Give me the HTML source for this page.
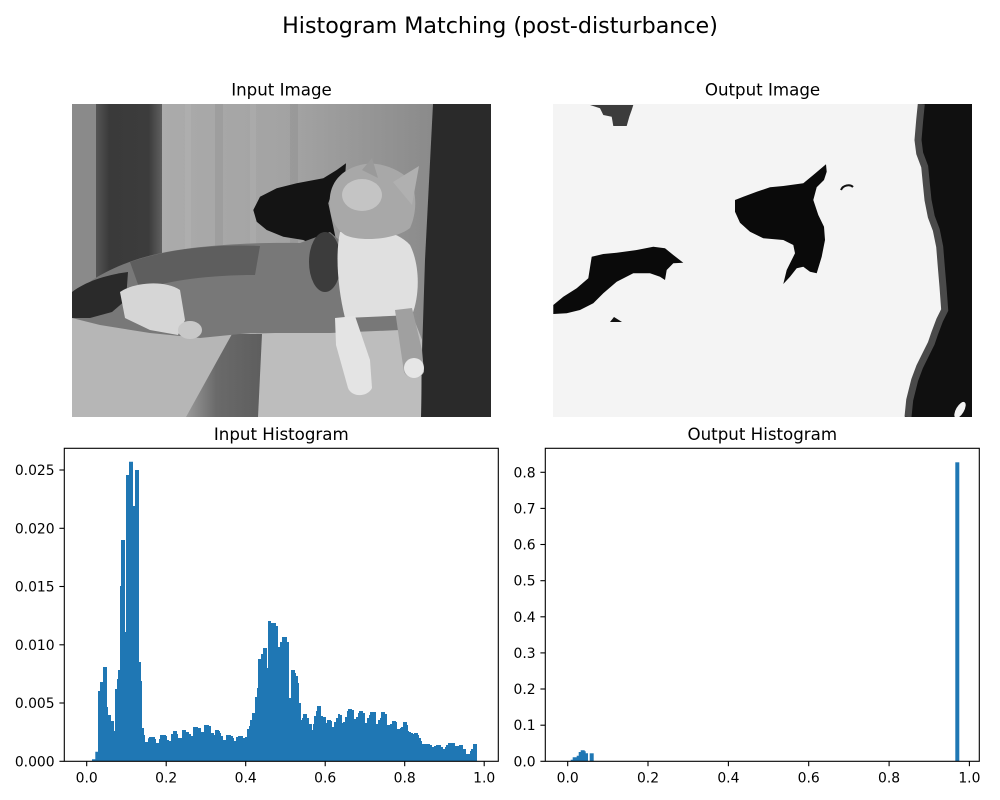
<!DOCTYPE html>
<html>
<head>
<meta charset="utf-8">
<style>
html,body{margin:0;padding:0;background:#fff;}
svg{display:block;}
text{font-family:"DejaVu Sans","Liberation Sans",sans-serif;fill:#000;}
</style>
</head>
<body>
<svg width="1000" height="800" viewBox="0 0 1000 800" xmlns="http://www.w3.org/2000/svg">
<defs>
  <clipPath id="c1"><rect x="72" y="104" width="419" height="313"/></clipPath>
  <clipPath id="c2"><rect x="553" y="104" width="419" height="313"/></clipPath>
  <linearGradient id="curt" x1="0" y1="0" x2="1" y2="0">
    <stop offset="0" stop-color="#ababab"/>
    <stop offset="0.5" stop-color="#a2a2a2"/>
    <stop offset="1" stop-color="#8a8a8a"/>
  </linearGradient>
  <linearGradient id="band" x1="0" y1="0" x2="1" y2="0">
    <stop offset="0" stop-color="#555"/>
    <stop offset="0.2" stop-color="#3a3a3a"/>
    <stop offset="0.8" stop-color="#3c3c3c"/>
    <stop offset="1" stop-color="#606060"/>
  </linearGradient>
  <linearGradient id="shad" x1="0" y1="0" x2="1" y2="0">
    <stop offset="0" stop-color="#9a9a9a"/>
    <stop offset="0.4" stop-color="#6a6a6a"/>
    <stop offset="1" stop-color="#5e5e5e"/>
  </linearGradient>
</defs>

<rect x="0" y="0" width="1000" height="800" fill="#fff"/>

<!-- Suptitle -->
<text x="500" y="33" font-size="22.2" text-anchor="middle">Histogram Matching (post-disturbance)</text>

<!-- Subplot titles -->
<text x="281.5" y="95.7" font-size="16.67" text-anchor="middle">Input Image</text>
<text x="762.5" y="95.7" font-size="16.67" text-anchor="middle">Output Image</text>
<text x="281.3" y="440" font-size="16.67" text-anchor="middle">Input Histogram</text>
<text x="762.3" y="440" font-size="16.67" text-anchor="middle">Output Histogram</text>

<!-- ===== Input image ===== -->
<g clip-path="url(#c1)">
  <rect x="72" y="104" width="419" height="313" fill="#9e9e9e"/>
  <rect x="160" y="104" width="275" height="313" fill="url(#curt)"/>
  <rect x="185" y="104" width="6" height="230" fill="#fff" opacity="0.06"/>
  <rect x="215" y="104" width="8" height="230" fill="#000" opacity="0.05"/>
  <rect x="250" y="104" width="6" height="230" fill="#fff" opacity="0.06"/>
  <rect x="290" y="104" width="8" height="230" fill="#000" opacity="0.05"/>
  <rect x="72" y="104" width="24" height="313" fill="#8a8a8a"/>
  <rect x="96" y="104" width="66" height="313" fill="url(#band)"/>
  <polygon points="433,104 491,104 491,417 420,417 425,260" fill="#2a2a2a"/>
  <!-- wall shadow -->
  <path d="M253.3,210 L260,196.7 L276.7,188.3 L296.7,183.3 L323.3,178.3 L336.7,170 L346,163.3 L345,178.3 L333.3,188.3 L328.3,203.3 L333.3,226.7 L336.7,243.3 L316.7,246.7 L303.3,240 L283.3,236.7 L266.7,230 L256.7,221.7 Z" fill="#141414"/>
  <!-- couch -->
  <polygon points="72,316 90,313 130,322 200,334 300,334 380,328 415,322 422,340 421,417 72,417" fill="#b6b6b6"/>
  <polygon points="262,334 415,322 422,340 421,417 258,417" fill="#bdbdbd"/>
  <polygon points="232,334 262,334 258,417 186,417" fill="url(#shad)"/>
  <!-- cat body -->
  <path d="M72,300 C80,285 105,270 135,260 C170,248 230,242 300,243 L330,232 L345,245 L345,300 L395,312 L400,330 L330,333 L250,333 L200,338 L150,333 L100,325 L72,318 Z" fill="#787878"/>
  <path d="M130,262 C170,248 220,244 260,246 L255,275 C210,275 170,280 140,290 Z" fill="#5e5e5e"/>
  <path d="M72,318 L72,292 C85,282 105,275 128,272 L126,300 L112,312 L90,318 Z" fill="#2a2a2a"/>
  <path d="M120,292 C135,282 165,280 180,290 L185,320 L178,335 L150,330 L125,318 Z" fill="#d6d6d6"/>
  <ellipse cx="190" cy="330" rx="12" ry="9" fill="#c8c8c8"/>
  <ellipse cx="325" cy="262" rx="16" ry="30" fill="#3c3c3c"/>
  <path d="M340,232 C360,225 395,228 410,245 C420,265 420,295 412,315 L345,318 C338,290 335,255 340,232 Z" fill="#e0e0e0"/>
  <!-- head -->
  <path d="M330,205 C328,185 340,170 360,165 C380,160 400,170 410,180 C418,195 416,215 410,228 C395,240 360,242 345,235 C335,228 330,218 330,205 Z" fill="#a8a8a8"/>
  <ellipse cx="362" cy="195" rx="20" ry="16" fill="#c4c4c4"/>
  <polygon points="362,170 372,158 378,178" fill="#9a9a9a"/>
  <polygon points="393,182 419,166 412,205" fill="#b0b0b0"/>
  <!-- legs -->
  <path d="M335,318 L355,316 L370,360 L372,388 C368,397 352,398 348,388 L336,345 Z" fill="#e4e4e4"/>
  <path d="M395,310 L412,308 L422,350 L424,372 C420,380 408,380 404,372 L400,345 Z" fill="#a0a0a0"/>
  <ellipse cx="414" cy="368" rx="10" ry="10" fill="#e6e6e6"/>
</g>

<!-- ===== Output image ===== -->
<g clip-path="url(#c2)">
  <rect x="553" y="104" width="419" height="313" fill="#f4f4f4"/>
  <polygon points="918.3,104 972,104 972,417 905,417 906.7,400 911.7,380 916.7,366.7 923.3,353.3 928.3,343.3 931.7,333.3 936.7,320 941.7,310 940,286.7 938.3,266.7 936.7,246.7 933.3,230 928.3,216.7 925,200 923.3,183.3 921.7,166.7 916.7,153.3 915,140 916.7,120 918.3,104" fill="#101010"/>
  <polyline points="918.3,104 916.7,120 915,140 916.7,153.3 921.7,166.7 923.3,183.3 925,200 928.3,216.7 933.3,230 936.7,246.7 938.3,266.7 940,286.7 941.7,310 936.7,320 931.7,333.3 928.3,343.3 923.3,353.3 916.7,366.7 911.7,380 906.7,400 905,417" fill="none" stroke="#4a4a4a" stroke-width="7" transform="translate(3,0)"/>
  <ellipse cx="960" cy="410" rx="4" ry="9" transform="rotate(30 960 410)" fill="#f4f4f4"/>
  <polygon points="590,105 633.3,105 631.7,110 629.3,116.7 626.7,126 613.3,126 611.7,116.7 603.3,115 600,108.3" fill="#3c3c3c"/>
  <path d="M735,200 L743.3,196.7 L756.7,191.7 L770,187.3 L783.3,186 L803.3,183.3 L813.3,175 L826,164.3 L826.7,171.7 L824,180 L816.7,187.3 L813.3,200 L818.3,215 L824,226.7 L825,240 L821.7,256.7 L816.7,273.3 L810,271.7 L803.3,266.7 L796.7,268.3 L790,276.7 L783.3,284 L786.7,270 L795,253.3 L793.3,245 L783.3,240 L763.3,238.3 L750,231.7 L740,222.7 L735,211.7 Z" fill="#0a0a0a"/>
  <path d="M553.3,305 L563.3,296.7 L576.7,288.3 L588.3,278.3 L591.7,256.7 L603.3,254 L616.7,252.7 L636.7,250 L653.3,246.7 L665,248.3 L673.3,255 L683.3,262.7 L673.3,263.3 L666.7,270 L665,280 L660,276.7 L650,273.3 L633.3,273.3 L616.7,281.7 L603.3,293.3 L593.3,303.3 L580,310 L566.7,313.3 L553.3,314 Z" fill="#0a0a0a"/>
  <polygon points="610,322 614,317 622,322" fill="#111"/>
  <path d="M841,190 C843,185 850,184 853,187" fill="none" stroke="#111" stroke-width="2"/>
</g>

<!-- ===== Input histogram ===== -->
<path fill="#1f77b4" d="M92 761.3 V759.3 H95.3 V751.7 H98 V691 H100 V682 H103 V667 H107 V707 H108 V715 H111 V721 H114 V731 H115 V689 H117 V679 H118 V670 H120 V586 H121 V540 H125 V632 H126 V475 H129 V461.7 H133 V506 H135 V470 H139 V662 H141 V681 H142 V728 H144 V735 H145 V742 H148 V738.3 H149 V737 H155 V739 H156 V743 H159 V739 H160 V735 H166 V736 H167 V740 H169 V741 H171 V734 H173 V731 H177 V734 H178 V738 H182 V730 H186 V732 H189 V734 H191 V736 H193 V727 H198 V728 H201 V732 H204 V725 H209 V726 H211 V733 H214 V735 H215 V730 H219 V731 H220 V733 H221 V736 H223 V740 H226 V735 H231 V736 H233 V738 H234 V741 H236 V737 H238 V736 H243 V738 H245 V737 H247 V729 H249 V726 H250 V720 H252 V713 H255 V697 H257 V688 H258 V659 H261 V654 H263 V648 H267 V668 H268 V621 H271 V623 H276 V626 H278 V647 H280 V642 H282 V637 H287 V642 H289 V698 H291 V670 H295 V673 H296 V676 H298 V683 H299 V703 H301 V720 H302 V718 H303 V714 H307 V718 H309 V724 H312 V730 H313 V724 H314 V716 H316 V711 H317 V706 H321 V716 H323 V717 H326 V723 H327 V720 H331 V721 H332 V727 H334 V722 H336 V718 H338 V714 H340 V715 H342 V723 H343 V722 H345 V717 H347 V711 H348 V709 H352 V710 H354 V719 H356 V717 H358 V713 H359 V711 H363 V713 H365 V723 H367 V718 H369 V715 H370 V712 H376 V724 H378 V720 H380 V718 H381 V712 H385 V714 H387 V725 H390 V724 H392 V721 H396 V722 H397 V729 H400 V728 H401 V727 H403 V722 H407 V725 H408 V731 H409 V732 H411 V733 H413 V734 H414 V733 H418 V735 H419 V738 H421 V741 H422 V744 H430 V745 H432 V747 H434 V746 H436 V745 H441 V747 H443 V749 H445 V747 H446 V745 H448 V743 H455 V746 H459 V745 H463 V749 H466 V754 H470 V751 H471 V749 H473 V744 H477 V761.3 Z"/>
<rect x="64.3" y="448.3" width="434" height="313" fill="none" stroke="#000" stroke-width="1.1"/>
<g stroke="#000" stroke-width="1.1">
  <line x1="86.7" y1="761.3" x2="86.7" y2="766.2"/>
  <line x1="166.2" y1="761.3" x2="166.2" y2="766.2"/>
  <line x1="245.7" y1="761.3" x2="245.7" y2="766.2"/>
  <line x1="325.2" y1="761.3" x2="325.2" y2="766.2"/>
  <line x1="404.7" y1="761.3" x2="404.7" y2="766.2"/>
  <line x1="484.2" y1="761.3" x2="484.2" y2="766.2"/>
  <line x1="64.3" y1="761.3" x2="59.4" y2="761.3"/>
  <line x1="64.3" y1="703.0" x2="59.4" y2="703.0"/>
  <line x1="64.3" y1="644.8" x2="59.4" y2="644.8"/>
  <line x1="64.3" y1="586.5" x2="59.4" y2="586.5"/>
  <line x1="64.3" y1="528.3" x2="59.4" y2="528.3"/>
  <line x1="64.3" y1="470.0" x2="59.4" y2="470.0"/>
</g>
<g font-size="13.9" text-anchor="middle">
  <text x="86.7" y="782.3">0.0</text>
  <text x="166.2" y="782.3">0.2</text>
  <text x="245.7" y="782.3">0.4</text>
  <text x="325.2" y="782.3">0.6</text>
  <text x="404.7" y="782.3">0.8</text>
  <text x="484.2" y="782.3">1.0</text>
</g>
<g font-size="13.9" text-anchor="end">
  <text x="54.6" y="766.3">0.000</text>
  <text x="54.6" y="708.0">0.005</text>
  <text x="54.6" y="649.8">0.010</text>
  <text x="54.6" y="591.5">0.015</text>
  <text x="54.6" y="533.3">0.020</text>
  <text x="54.6" y="475.0">0.025</text>
</g>

<!-- ===== Output histogram ===== -->
<path fill="#1f77b4" d="M570.7 761.3 V759.7 H572.7 V757.3 H576.7 V755.7 H578.7 V752 H580.7 V750.3 H584.7 V751.3 H585.7 V753.3 H588 V761.3 Z"/>
<rect x="589.7" y="753.3" width="4" height="8" fill="#1f77b4"/>
<rect x="955.3" y="462.3" width="4" height="299" fill="#1f77b4"/>
<rect x="545.3" y="448.3" width="434" height="313" fill="none" stroke="#000" stroke-width="1.1"/>
<g stroke="#000" stroke-width="1.1">
  <line x1="567.7" y1="761.3" x2="567.7" y2="766.2"/>
  <line x1="648.0" y1="761.3" x2="648.0" y2="766.2"/>
  <line x1="728.4" y1="761.3" x2="728.4" y2="766.2"/>
  <line x1="808.7" y1="761.3" x2="808.7" y2="766.2"/>
  <line x1="889.1" y1="761.3" x2="889.1" y2="766.2"/>
  <line x1="969.4" y1="761.3" x2="969.4" y2="766.2"/>
  <line x1="545.3" y1="761.3" x2="540.4" y2="761.3"/>
  <line x1="545.3" y1="725.2" x2="540.4" y2="725.2"/>
  <line x1="545.3" y1="689.0" x2="540.4" y2="689.0"/>
  <line x1="545.3" y1="652.9" x2="540.4" y2="652.9"/>
  <line x1="545.3" y1="616.8" x2="540.4" y2="616.8"/>
  <line x1="545.3" y1="580.7" x2="540.4" y2="580.7"/>
  <line x1="545.3" y1="544.5" x2="540.4" y2="544.5"/>
  <line x1="545.3" y1="508.4" x2="540.4" y2="508.4"/>
  <line x1="545.3" y1="472.3" x2="540.4" y2="472.3"/>
</g>
<g font-size="13.9" text-anchor="middle">
  <text x="567.7" y="782.3">0.0</text>
  <text x="648.0" y="782.3">0.2</text>
  <text x="728.4" y="782.3">0.4</text>
  <text x="808.7" y="782.3">0.6</text>
  <text x="889.1" y="782.3">0.8</text>
  <text x="969.4" y="782.3">1.0</text>
</g>
<g font-size="13.9" text-anchor="end">
  <text x="535.6" y="766.3">0.0</text>
  <text x="535.6" y="730.2">0.1</text>
  <text x="535.6" y="694.0">0.2</text>
  <text x="535.6" y="657.9">0.3</text>
  <text x="535.6" y="621.8">0.4</text>
  <text x="535.6" y="585.7">0.5</text>
  <text x="535.6" y="549.5">0.6</text>
  <text x="535.6" y="513.4">0.7</text>
  <text x="535.6" y="477.3">0.8</text>
</g>
</svg>
</body>
</html>
